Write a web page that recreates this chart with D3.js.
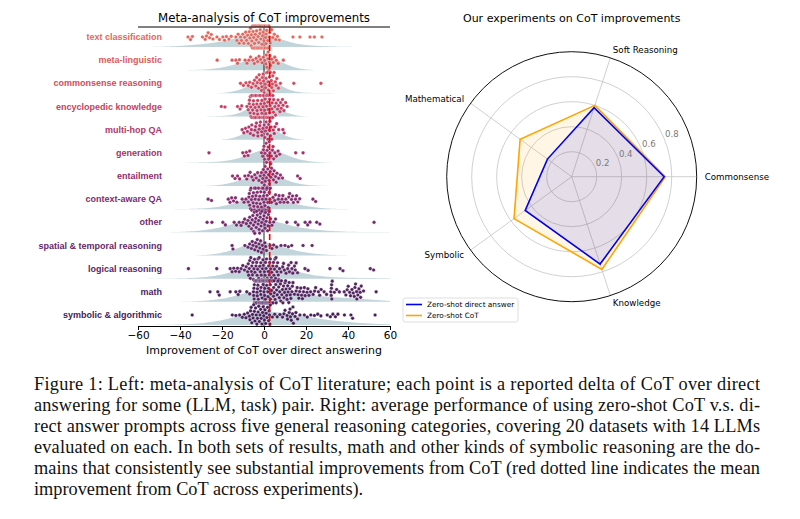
<!DOCTYPE html>
<html>
<head>
<meta charset="utf-8">
<script src="https://cdn.jsdelivr.net/npm/d3@7"></script>
<style>
  html, body { margin: 0; padding: 0; background: #fff; }
  svg { display: block; }
</style>
</head>
<body>
<div id="chart"></div>
<script>
// ---------------- data: meta-analysis (delta of CoT over direct answer) ----------------
const categories = [
  'text classification', 'meta-linguistic', 'commonsense reasoning', 'encyclopedic knowledge',
  'multi-hop QA', 'generation', 'entailment', 'context-aware QA', 'other',
  'spatial & temporal reasoning', 'logical reasoning', 'math', 'symbolic & algorithmic'
];

const textClassification = [-36.2, -35.0, -34.1, -29.3, -28.0, -27.4, -26.6, -25.9, -25.1, -24.3, -22.4, -21.2, -19.6, -18.8, -17.9, -16.7, -15.6,
  -13.4, -12.9, -12.3, -11.8, -11.2, -10.7, -10.1, -9.6, -9.2, -8.7, -8.3, -7.8, -7.4,
  -7.0, -6.7, -6.4, -6.1, -5.8, -5.5, -5.2, -4.9, -4.7, -4.4, -4.1, -3.9, -3.6, -3.3, -3.1, -2.8, -2.5, -2.3, -2.0, -1.8, -1.5, -1.2, -1.0, -0.7, -0.4, -0.2, 0.0, 0.3, 0.5, 0.8, 1.0, 1.3, 1.6, 1.8, 2.1, 2.4, 2.7, 3.0,
  -6.0, -5.0, -4.0, -3.0, -2.0, -1.0, 0.1, 1.1, 2.2, -5.5, -4.5, -3.5, -2.5, -1.5, -0.5, 0.6, 1.5, 2.5,
  3.6, 4.2, 4.9, 5.6, 6.4, 7.3, 13.8, 17.1, 21.9, 24.0, 27.6];
const metaLinguistic = [-22.3, -15.2, -13.4, -12.6, -11.7, -9.0, -8.1, -7.2, -6.4, -5.3, -4.6, -3.8, -3.0, -2.4, -1.6, -0.9, -0.3, 0.4, 0.9, 1.4,
  1.9, 2.3, 2.8, 3.2, 1.1, 2.0, 2.6, 3.7, 4.4, 5.1, 5.9, 6.8, 9.2];
const commonsenseReasoning = [-11.2, -9.8, -8.6, -7.5, -6.8, -6.0, -5.2, -4.5, -3.9, -3.2, -2.6, -2.1, -1.5, -1.0, -0.4, 0.1, 0.6, 1.0, 1.5, 1.9,
  2.4, 2.8, 3.3, 3.7, 4.2, 4.8, 5.4, 6.1, 6.9, 7.8, -2.3, -1.2, -0.2, 0.8, 1.7, 2.6, 3.5, 4.5, 5.8, -3.5, -0.8, 1.2, 2.1, 3.0, 4.0, 14.2, 27.1];
const encyclopedicKnowledge = [-20.3, -18.6, -12.6, -11.4, -10.6,
  -8.1, -7.5, -7.0, -6.6, -6.2, -5.8, -5.4, -5.0, -4.6, -4.2, -3.8, -3.4, -3.0, -2.6, -2.2, -1.8, -1.4, -1.0, -0.6, -0.2, 0.2, 0.6, 1.0, 1.4, 1.8, 2.2, 2.6, 3.0, 3.4, 3.8, 4.2, 4.6,
  -6.9, -6.3, -5.7, -5.1, -4.5, -3.9, -3.3, -2.7, -2.1, -1.5, -0.9, -0.3, 0.3, 0.9, 1.5, 2.1, 2.7, 3.3, 3.9, 4.5,
  -6.0, -5.0, -4.0, -3.0, -2.0, -1.0, 0.0, 1.0, 2.0, 3.0, 4.0, -6.5, -4.8, -2.4, -0.5, 1.2, 2.9, 4.1,
  5.2, 5.8, 6.4, 7.0, 7.6, 8.2, 8.8, 9.5, 10.3, 11.0, 5.5, 6.7, 7.9, 9.1];
const multiHopQA = [-10.4, -9.6, -8.8, -7.9, -7.2, -6.5, -5.8, -5.0, -4.3, -3.6, -2.9, -2.3, -1.7, -1.1, -0.5, 0.1, 0.7, 1.3, 1.9, 2.5, 3.1, 3.7, 4.4,
  5.2, 6.0, 7.0, -4.0, -2.0, -1.0, 0.4, 1.0, 1.6, 2.2, 2.8, 3.4, -6.0, -3.0, 4.9, 9.0, 9.6];
const generation = [-26.2, -10.1, -9.3, -8.4, -7.6, -6.8, -1.2, -0.6, 0.0, 0.5, 1.0, 1.5, 2.0, 2.5, 3.0, 3.5, 4.0, 4.6, 5.2, 5.9, 6.7, 7.5,
  0.3, 1.2, 2.2, 3.2, 4.3, 1.8, 2.8, -0.3, 15.1, 18.6];
const entailment = [-15.0, -13.8, -12.6, -11.6, -9.1, -8.2, -7.4, -6.6, -5.8, -5.1, -4.4, -3.7, -3.0, -2.4,
  -1.8, -1.2, -0.6, 0.0, 0.6, 1.2, 1.8, 2.4, 3.0, 3.6, 4.2, 4.8, 5.5, 6.2, 7.0, 7.8, 8.8,
  -1.0, 0.2, 0.9, 1.5, 2.6, 3.3, 4.5, 5.8, -0.3, 0.5, 2.1, 16.0, 17.2];
const contextAwareQA = [-26.6, -25.0, -17.0, -16.2, -15.4, -14.5, -13.6, -12.9, -10.4, -9.5, -8.6,
  -7.5, -7.0, -6.5, -6.0, -5.5, -5.0, -4.5, -4.0, -3.5, -3.0, -2.5, -2.0, -1.5, -1.0, -0.5, 0.0, 0.5, 1.0, 1.5, 2.0, 2.5, 3.0,
  -7.2, -6.2, -5.2, -4.2, -3.2, -2.2, -1.2, -0.2, 0.8, 1.8, 2.8,
  -6.8, -5.8, -4.8, -3.8, -2.8, -1.8, -0.8, 0.2, 1.2, 2.2, -6.4, -4.6, -2.6, -0.6, 1.4,
  3.6, 4.3, 5.1, 5.9, 6.8, 7.7, 8.6, 9.5, 10.4, 11.3, 12.2, 13.1, 14.0, 15.0, 16.1, 17.0,
  5.5, 7.2, 9.0, 11.8, 13.6, 15.5, 23.3, 24.6];
const other = [-27.1, -24.8, -19.6, -18.4, -14.2, -13.1, -11.8,
  -10.9, -10.0, -9.2, -8.4, -7.6, -6.8, -6.0, -5.3, -4.6, -3.9, -3.2, -2.5, -1.8, -1.1, -0.4, 0.3, 1.0, 1.7, 2.4, 3.1, 3.8, 4.6, 5.5,
  -7.2, -6.4, -5.6, -4.9, -4.2, -3.5, -2.8, -2.1, -1.4, -0.7, 0.0, 0.7, 1.4, 2.1, 2.8,
  -5.0, -3.7, -2.3, -1.0, 0.5, 1.9, -4.4, -1.7,
  10.9, 15.0, 16.2, 19.6, 20.8, 21.9, 25.1, 26.6, 52.4];
const spatialTemporal = [-15.2, -14.8, -9.1, -7.6, -6.8, -6.0, -5.2, -4.4, -3.6, -2.8, -2.0, -1.2, -0.4, 0.4, 1.2,
  -5.6, -4.0, -2.4, -0.8, 0.8, -3.2, -1.6, 2.9, 3.8, 4.6, 6.0, 8.1, 10.0, 11.6, 13.2, 18.6, 22.9];
const logicalReasoning = [-36.0, -22.5, -16.1, -15.2, -14.4, -13.5, -12.6, -11.8, -10.9, -10.1, -9.3, -8.5,
  -7.8, -7.3, -6.8, -6.3, -5.8, -5.3, -4.8, -4.3, -3.8, -3.3, -2.8, -2.3, -1.8, -1.3, -0.8, -0.3, 0.2, 0.7, 1.2, 1.7, 2.2, 2.7, 3.2, 3.7, 4.2, 4.7, 5.2, 5.7, 6.2, 6.8, 7.4,
  -7.5, -6.5, -5.5, -4.5, -3.5, -2.5, -1.5, -0.5, 0.5, 1.5, 2.5, 3.5, 4.5, 5.5, 6.5,
  -7.0, -5.0, -3.0, -1.0, 1.0, 3.0, 5.0, 7.0, -6.0, -2.0, 2.0, 6.0,
  8.1, 8.9, 9.7, 10.5, 11.3, 12.1, 12.9, 13.7, 14.5, 15.3, 16.0, 9.3, 11.7, 13.3, 14.9,
  19.5, 21.0, 31.4, 36.2, 37.6, 50.6, 52.2];
const math = [-25.7, -22.0, -21.3, -16.1, -13.4, -12.3, -11.5, -8.2, -6.8,
  -5.0, -4.7, -4.4, -4.1, -3.8, -3.5, -3.2, -2.9, -2.6, -2.3, -2.0, -1.7, -1.4, -1.1, -0.8, -0.5, -0.2, 0.1, 0.4, 0.7, 1.0, 1.3, 1.6, 1.9, 2.2, 2.5, 2.8, 3.1, 3.4, 3.7, 4.0, 4.3, 4.6, 4.9,
  -4.9, -4.5, -4.0, -3.6, -3.1, -2.7, -2.2, -1.8, -1.3, -0.9, -0.4, 0.0, 0.5, 0.9, 1.4, 1.8, 2.3, 2.7, 3.2, 3.6, 4.1, 4.5,
  -4.8, -4.2, -3.7, -3.0, -2.5, -1.9, -1.2, -0.6, 0.2, 0.8, 1.5, 2.1, 2.9, 3.5, 4.2, 4.8,
  -4.6, -3.3, -2.4, -1.5, -0.7, 0.3, 1.2, 2.0, 3.0, 3.9,
  5.3, 5.8, 6.3, 6.8, 7.3, 7.8, 8.3, 8.8, 9.3, 9.8, 10.3, 10.8, 11.3, 11.8, 12.3, 12.8, 13.3, 13.8,
  5.6, 6.5, 7.5, 8.5, 9.5, 10.5, 11.5, 12.5, 13.5, 6.0, 8.0, 10.0, 12.0, 7.0, 9.0, 11.0,
  14.5, 15.3, 16.2, 17.0, 17.9, 18.8, 19.6, 20.5, 21.4, 22.2, 15.8, 17.5, 19.2, 20.9, 16.6, 18.3,
  23.4, 24.6, 25.9, 27.2, 28.6, 29.8, 24.1, 26.5,
  31.8, 32.0, 32.1, 32.2, 32.3, 32.5, 33.5, 34.6, 35.9,
  38.2, 39.6, 40.8, 41.9, 43.0, 44.1, 45.2, 46.3, 47.4, 39.0, 41.2, 42.5, 43.6, 44.7, 45.8, 40.1, 43.3, 46.0, 44.2,
  53.4];
const symbolicAlgorithmic = [-34.2, -15.1, -13.4, -11.6, -10.3, -9.4, -8.6, -7.8,
  -7.0, -6.4, -5.8, -5.2, -4.6, -4.0, -3.4, -2.8, -2.2, -1.6, -1.0, -0.4, 0.2, 0.8, 1.4,
  -6.7, -5.5, -4.3, -3.1, -1.9, -0.7, 0.5, 1.7, -6.1, -4.9, -3.7, -2.5, -1.3, -0.1, 1.1,
  2.2, 2.4, 2.6, 2.8, 3.0,
  4.0, 5.1, 6.3, 7.6, 8.8, 10.0, 11.2, 12.4, 13.6, 14.8, 16.0, 17.1,
  9.5, 11.0, 12.0, 13.0, 14.0, 15.2, 12.6, 13.8,
  19.2, 20.6, 22.3, 24.0, 25.6, 27.1, 30.1, 31.6, 32.8, 34.0, 35.2, 38.3, 41.4, 42.2, 52.9];

const deltas = [textClassification, metaLinguistic, commonsenseReasoning, encyclopedicKnowledge, multiHopQA,
  generation, entailment, contextAwareQA, other, spatialTemporal, logicalReasoning, math, symbolicAlgorithmic];
const rowColors = ['#e3675c', '#dd5a5b', '#d24a5e', '#c53f62', '#b43668', '#a3306b', '#922d6d',
  '#822b6e', '#73296c', '#672768', '#5c2564', '#51225f', '#47205a'];
const xTicks = [-60, -40, -20, 0, 20, 40, 60];
const meanImprovement = 2.7;

// ---------------- data: radar (average accuracy) ----------------
const radarAxes = ['Commonsense', 'Soft Reasoning', 'Mathematical', 'Symbolic', 'Knowledge'];
const directAnswer = [0.74, 0.58, 0.24, 0.46, 0.735];
const zeroShotCoT = [0.75, 0.60, 0.51, 0.57, 0.78];
const radialTicks = [0.2, 0.4, 0.6, 0.8];

const captionLines = [
  'Figure 1: Left: meta-analysis of CoT literature; each point is a reported delta of CoT over direct',
  'answering for some (LLM, task) pair. Right: average performance of using zero-shot CoT v.s. di-',
  'rect answer prompts across five general reasoning categories, covering 20 datasets with 14 LLMs',
  'evaluated on each. In both sets of results, math and other kinds of symbolic reasoning are the do-',
  'mains that consistently see substantial improvements from CoT (red dotted line indicates the mean',
  'improvement from CoT across experiments).'
];

const sans = 'DejaVu Sans, sans-serif';
const svg = d3.select('#chart').append('svg').attr('width', 800).attr('height', 519)
  .style('background', '#fff');

/**
 * 蜂群布局: 按x排序, 每个点放在离中线最近且不重叠的位置, 超出范围的贴边
 */
function swarm(values, x, r, maxOff) {
  const pts = values.map(v => ({ v, x: x(v) })).sort((a, b) => a.x - b.x);
  const placed = [];
  const d = 2 * r;
  pts.forEach(p => {
    const near = placed.filter(q => Math.abs(p.x - q.x) < d);
    const cands = [0];
    near.forEach(q => {
      const dy = Math.sqrt(d * d - (p.x - q.x) ** 2);
      cands.push(q.y + dy, q.y - dy);
    });
    cands.sort((a, b) => Math.abs(a) - Math.abs(b));
    let y = cands.find(c => near.every(q => (p.x - q.x) ** 2 + (c - q.y) ** 2 >= d * d - 1e-6));
    if (y === undefined) y = cands[cands.length - 1];
    p.y = Math.max(-maxOff, Math.min(maxOff, y));
    placed.push(p);
  });
  return pts;
}

function drawSwarmPanel() {
  const x = d3.scaleLinear().domain([-60, 60]).range([138, 390]);
  const y = d3.scalePoint().domain(categories).range([37, 315]);
  const top = 27, bottom = 326;
  const g = svg.append('g');

  // half violins (kde)
  deltas.forEach((vals, i) => {
    const bw = 2 * d3.deviation(vals) * Math.pow(vals.length, -0.2);
    const lo = Math.max(-60, d3.min(vals) - 2 * bw);
    const hi = Math.min(60, d3.max(vals) + 2 * bw);
    const grid = d3.range(lo, hi, (hi - lo) / 160).concat([hi]);
    const dens = grid.map(t => [t, d3.sum(vals, v => Math.exp(-0.5 * ((t - v) / bw) ** 2))]);
    const h = d3.scaleLinear().domain([0, d3.max(dens, e => e[1])]).range([0, 13]);
    const base = y(categories[i]) + 10;
    g.append('path')
      .datum(dens)
      .attr('fill', '#c2d5db')
      .attr('d', d3.area().x(e => x(e[0])).y0(base).y1(e => base - h(e[1])).curve(d3.curveBasis));
  });

  // zero line
  g.append('line').attr('x1', x(0)).attr('x2', x(0)).attr('y1', top).attr('y2', bottom)
    .attr('stroke', '#222').attr('stroke-width', 1);

  // dots
  deltas.forEach((vals, i) => {
    const cy = y(categories[i]);
    const pts = swarm(vals, x, 1.8, 11);
    g.append('g').selectAll('circle').data(pts).enter().append('circle')
      .attr('cx', p => p.x).attr('cy', p => cy + p.y).attr('r', 1.8)
      .attr('fill', rowColors[i]).attr('stroke', '#fff').attr('stroke-width', 0.3);
  });

  // mean improvement
  g.append('line').attr('x1', x(meanImprovement)).attr('x2', x(meanImprovement)).attr('y1', top).attr('y2', bottom)
    .attr('stroke', 'red').attr('stroke-width', 1.6).attr('stroke-dasharray', '6,3');

  // top spine + title
  g.append('line').attr('x1', 138).attr('x2', 390).attr('y1', top).attr('y2', top).attr('stroke', '#000');
  g.append('text').attr('x', 264).attr('y', 22).attr('text-anchor', 'middle')
    .attr('font-family', sans).attr('font-size', 11.8).text('Meta-analysis of CoT improvements');

  // row labels
  g.selectAll('.rowLabel').data(categories).enter().append('text')
    .attr('class', 'rowLabel')
    .attr('x', 162).attr('y', d => y(d)).attr('dy', '0.35em')
    .attr('text-anchor', 'end').attr('font-family', 'Liberation Sans, Arial, sans-serif')
    .attr('font-weight', 'bold').attr('font-size', 9)
    .attr('fill', (d, i) => rowColors[i]).text(d => d);

  // x axis
  const axis = g.append('g').attr('transform', `translate(0,${bottom})`)
    .call(d3.axisBottom(x).tickValues(xTicks).tickSize(4).tickSizeOuter(0).tickPadding(2));
  axis.selectAll('text').attr('font-family', sans).attr('font-size', 10.5).attr('fill', '#000');
  axis.selectAll('line, path').attr('stroke', '#000');
  g.append('text').attr('x', 264).attr('y', 354).attr('text-anchor', 'middle')
    .attr('font-family', sans).attr('font-size', 11).text('Improvement of CoT over direct answering');
}

function drawRadar() {
  const cx = 571.7, cy = 176.7;
  const r = d3.scaleLinear().domain([0, 1]).range([0, 125]);
  const angle = i => i * 2 * Math.PI / radarAxes.length;
  const pt = (i, v) => [cx + r(v) * Math.cos(angle(i)), cy - r(v) * Math.sin(angle(i))];
  const g = svg.append('g');

  g.append('text').attr('x', cx).attr('y', 22).attr('text-anchor', 'middle')
    .attr('font-family', sans).attr('font-size', 11).text('Our experiments on CoT improvements');

  // grid
  g.selectAll('.gridCircle').data(radialTicks).enter().append('circle')
    .attr('cx', cx).attr('cy', cy).attr('r', d => r(d))
    .attr('fill', 'none').attr('stroke', '#c4c4c4').attr('stroke-width', 0.8);
  g.selectAll('.spoke').data(radarAxes).enter().append('line')
    .attr('x1', cx).attr('y1', cy)
    .attr('x2', (d, i) => pt(i, 1)[0]).attr('y2', (d, i) => pt(i, 1)[1])
    .attr('stroke', '#c4c4c4').attr('stroke-width', 0.8);

  const line = d3.line().curve(d3.curveLinearClosed);
  const series = [
    { vals: zeroShotCoT, color: 'orange', fill: 'rgba(255,165,0,0.1)' },
    { vals: directAnswer, color: '#0000ee', fill: 'rgba(0,0,255,0.1)' }
  ];
  series.forEach(s => {
    const poly = s.vals.map((v, i) => pt(i, v));
    g.append('path').attr('d', line(poly)).attr('fill', s.fill).attr('stroke', 'none');
  });
  series.forEach(s => {
    const poly = s.vals.map((v, i) => pt(i, v));
    g.append('path').attr('d', line(poly)).attr('fill', 'none')
      .attr('stroke', s.color).attr('stroke-width', 1.6).attr('stroke-linejoin', 'miter');
  });

  // outer circle
  g.append('circle').attr('cx', cx).attr('cy', cy).attr('r', r(1))
    .attr('fill', 'none').attr('stroke', '#111').attr('stroke-width', 1);

  // radial tick labels at 22.5 deg
  const a = 22.5 * Math.PI / 180;
  g.selectAll('.rTick').data(radialTicks).enter().append('text')
    .attr('x', d => cx + r(d) * Math.cos(a) + 1).attr('y', d => cy - r(d) * Math.sin(a) - 1)
    .attr('font-family', sans).attr('font-size', 8.6).attr('fill', '#7a7a7a')
    .text(d => d.toFixed(1));

  // axis labels
  g.selectAll('.axisLabel').data(radarAxes).enter().append('text')
    .attr('x', (d, i) => cx + 133 * Math.cos(angle(i)))
    .attr('y', (d, i) => cy - 133 * Math.sin(angle(i)))
    .attr('dy', '0.35em')
    .attr('text-anchor', (d, i) => Math.cos(angle(i)) < -0.01 ? 'end' : 'start')
    .attr('font-family', sans).attr('font-size', 8.7).text(d => d);

  // legend
  const lg = g.append('g').attr('transform', 'translate(403,298)');
  lg.append('rect').attr('width', 115).attr('height', 24).attr('rx', 2)
    .attr('fill', '#fff').attr('stroke', '#d6d6d6').attr('stroke-width', 0.8);
  [['Zero-shot direct answer', '#0000ee'], ['Zero-shot CoT', 'orange']].forEach((e, i) => {
    const yy = 6.5 + i * 11;
    lg.append('line').attr('x1', 3).attr('x2', 19).attr('y1', yy).attr('y2', yy)
      .attr('stroke', e[1]).attr('stroke-width', 1.6);
    lg.append('text').attr('x', 24).attr('y', yy).attr('dy', '0.35em')
      .attr('font-family', sans).attr('font-size', 7.3).text(e[0]);
  });
}

function drawCaption() {
  const g = svg.append('g');
  captionLines.forEach((t, i) => {
    const txt = g.append('text').attr('x', 34).attr('y', 390 + i * 21)
      .attr('font-family', 'Liberation Serif, Times New Roman, serif').attr('font-size', 18.3)
      .attr('fill', '#111').text(t);
    if (i < captionLines.length - 1) txt.attr('textLength', 726).attr('lengthAdjust', 'spacing');
  });
}

drawSwarmPanel();
drawRadar();
drawCaption();
</script>
</body>
</html>
